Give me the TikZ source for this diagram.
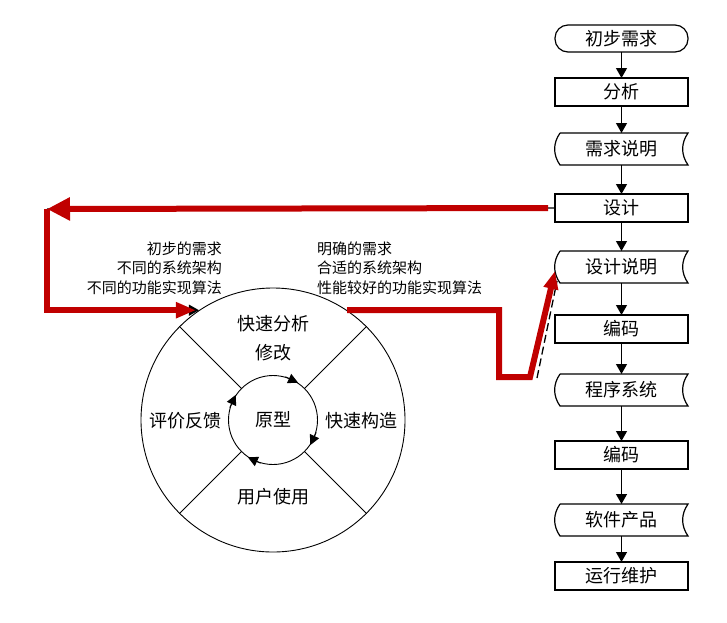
\documentclass[tikz,border=0pt]{standalone}
\usepackage{xcolor}
\usepackage{fontspec}
\setmainfont{Noto Sans CJK SC}
\usepackage{tikz}
\usetikzlibrary{arrows.meta, positioning, calc}

\definecolor{fbred}{HTML}{C00000}

% stored-data outline drawn round a plain node
\newcommand{\datashape}[1]{%
  \draw[line width=1.2pt] ([xshift=5pt]#1.north west) -- (#1.north east)
    to[out=-125,in=125] (#1.south east) -- ([xshift=5pt]#1.south west)
    to[out=125,in=-125] ([xshift=5pt]#1.north west);}

\begin{document}
\begin{tikzpicture}[
  x=1pt, y=-1pt,
  font=\fontsize{18}{20}\selectfont,
  proc/.style={draw, line width=1.2pt, minimum width=133pt, minimum height=28pt, inner sep=0pt, outer sep=0pt},
  term/.style={proc, minimum height=27pt, rounded corners=13pt},
  docu/.style={minimum width=133pt, minimum height=32pt, inner sep=0pt, outer sep=0pt},
  flow/.style={-{Triangle[length=10pt, width=11pt]}, line width=1.2pt},
  loop/.style={draw=fbred, line width=6pt},
  note/.style={inner sep=0pt, font=\fontsize{15}{19.5}\selectfont}
]
  \useasboundingbox (0,0) rectangle (727,622);

  % waterfall column
  \node[term] (need) at (621.5,38.5) {初步需求};
  \node[proc, below=26pt of need] (ana) {分析};
  \node[docu, below=27pt of ana] (rspec) {需求说明};
  \node[proc, below=29pt of rspec] (design) {设计};
  \node[docu, below=29pt of design] (dspec) {设计说明};
  \node[proc, below=32pt of dspec] (code) {编码};
  \node[docu, below=31pt of code] (prog) {程序系统};
  \node[proc, below=35pt of prog] (code2) {编码};
  \node[docu, below=35pt of code2] (prod) {软件产品};
  \node[proc, below=26pt of prod] (maint) {运行维护};
  \foreach \n in {rspec, dspec, prog, prod} {\datashape{\n}}

  \foreach \a/\b in {need/ana, ana/rspec, rspec/design, design/dspec, dspec/code,
                     code/prog, prog/code2, code2/prod, prod/maint}
    \draw[flow] (\a) -- (\b);

  % prototype wheel
  \node[circle, draw, line width=0.9pt, minimum size=264pt] (wheel) at (273,420) {};
  \node[circle, draw, line width=0.9pt, minimum size=89pt, inner sep=0pt] (proto) at (wheel.center) {原型};
  \foreach \a in {45,135,225,315}
    \draw[line width=0.9pt] (proto.\a) -- (wheel.\a);
  \foreach \a/\b in {74/56, -16/-34, -106/-124, 164/146}
    \draw[-{Triangle[length=10pt, width=10pt]}, line width=0.9pt] (proto.\a) -- (proto.\b);

  \node (quick) at (273,324) {快速分析};
  \node (mod) at (273,353) {修改};
  \node (eval) at (185,421) {评价反馈};
  \node (build) at (361,421) {快速构造};
  \node (use) at (273,497) {用户使用};

  \node[note, anchor=east, align=right] (before) at (222,268) {初步的需求\\不同的系统架构\\不同的功能实现算法};
  \node[note, anchor=west, align=left] (after) at (317,268) {明确的需求\\合适的系统架构\\性能较好的功能实现算法};

  % feedback loop
  \coordinate (back) at (47,209);
  \coordinate (dip) at (499,377);
  \coordinate (turn) at (530,377);
  \coordinate (dfoot) at (537,378);

  \draw[line width=1.2pt] (design.west) -- (back);
  \draw[loop, -{Triangle[length=23pt, width=22pt]}] ([xshift=-7pt]design.west) -- (back);
  \draw[flow] (back) |- (wheel.124);
  \draw[loop, -{Triangle[length=20pt, width=15pt]}, shorten >=3pt] (back) |- (wheel.124);

  \draw[line width=1.3pt, dash pattern=on 8pt off 4pt] (dfoot) -- ([xshift=2pt, yshift=-14pt]dspec.west);
  \draw[loop, -{Triangle[length=18pt, width=14pt]}] (wheel.56) -| (dip) -- (turn) -- ([yshift=-4pt]dspec.west);
\end{tikzpicture}
\end{document}
